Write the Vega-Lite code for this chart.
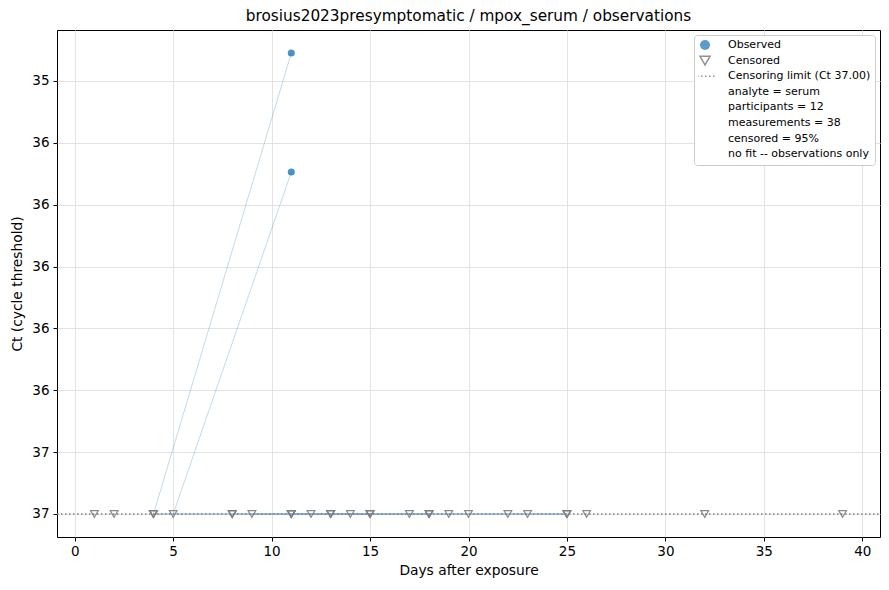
{
  "$schema": "https://vega.github.io/schema/vega-lite/v6.json",
  "width": 823,
  "height": 507,
  "autosize": {"type": "none"},
  "padding": {"left": 57, "top": 30, "right": 9, "bottom": 53},
  "title": {
    "text": "brosius2023presymptomatic / mpox_serum / observations",
    "font": "DejaVu Sans",
    "fontSize": 15.3,
    "fontWeight": "normal",
    "color": "black",
    "offset": 6
  },
  "config": {
    "font": "DejaVu Sans",
    "view": {"stroke": "black", "strokeWidth": 1},
    "axis": {
      "labelFont": "DejaVu Sans",
      "labelFontSize": 13.5,
      "labelColor": "black",
      "titleFont": "DejaVu Sans",
      "titleFontSize": 13.8,
      "titleFontWeight": "normal",
      "titleColor": "black",
      "tickColor": "black",
      "tickSize": 4,
      "domain": false,
      "gridColor": "#e3e3e3",
      "gridWidth": 1
    },
    "legend": {
      "labelFont": "DejaVu Sans",
      "labelFontSize": 11,
      "labelColor": "black"
    }
  },
  "datasets": {
    "obs": [
      {"pid": "P01", "day": 4, "ct": 37, "censored": true},
      {"pid": "P01", "day": 11, "ct": 35.137, "censored": false},
      {"pid": "P02", "day": 5, "ct": 37, "censored": true},
      {"pid": "P02", "day": 11, "ct": 35.618, "censored": false},
      {"pid": "P03", "day": 4, "ct": 37, "censored": true},
      {"pid": "P03", "day": 8, "ct": 37, "censored": true},
      {"pid": "P03", "day": 11, "ct": 37, "censored": true},
      {"pid": "P03", "day": 13, "ct": 37, "censored": true},
      {"pid": "P03", "day": 15, "ct": 37, "censored": true},
      {"pid": "P03", "day": 18, "ct": 37, "censored": true},
      {"pid": "P03", "day": 25, "ct": 37, "censored": true},
      {"pid": "P04", "day": 8, "ct": 37, "censored": true},
      {"pid": "P04", "day": 11, "ct": 37, "censored": true},
      {"pid": "P04", "day": 13, "ct": 37, "censored": true},
      {"pid": "P04", "day": 15, "ct": 37, "censored": true},
      {"pid": "P04", "day": 18, "ct": 37, "censored": true},
      {"pid": "P04", "day": 25, "ct": 37, "censored": true},
      {"pid": "P05", "day": 9, "ct": 37, "censored": true},
      {"pid": "P05", "day": 12, "ct": 37, "censored": true},
      {"pid": "P05", "day": 14, "ct": 37, "censored": true},
      {"pid": "P05", "day": 17, "ct": 37, "censored": true},
      {"pid": "P05", "day": 19, "ct": 37, "censored": true},
      {"pid": "P05", "day": 20, "ct": 37, "censored": true},
      {"pid": "P05", "day": 22, "ct": 37, "censored": true},
      {"pid": "P05", "day": 23, "ct": 37, "censored": true},
      {"pid": "P05", "day": 25, "ct": 37, "censored": true},
      {"pid": "P06", "day": 1, "ct": 37, "censored": true},
      {"pid": "P07", "day": 2, "ct": 37, "censored": true},
      {"pid": "P08", "day": 26, "ct": 37, "censored": true},
      {"pid": "P09", "day": 32, "ct": 37, "censored": true},
      {"pid": "P10", "day": 39, "ct": 37, "censored": true},
      {"pid": "P11", "day": 4, "ct": 37, "censored": true},
      {"pid": "P11", "day": 8, "ct": 37, "censored": true},
      {"pid": "P11", "day": 11, "ct": 37, "censored": true},
      {"pid": "P11", "day": 15, "ct": 37, "censored": true},
      {"pid": "P12", "day": 11, "ct": 37, "censored": true},
      {"pid": "P12", "day": 13, "ct": 37, "censored": true},
      {"pid": "P12", "day": 18, "ct": 37, "censored": true}
    ],
    "legend": [
      {"entry": "Observed"},
      {"entry": "Censored"},
      {"entry": "Censoring limit (Ct 37.00)"},
      {"entry": "analyte = serum"},
      {"entry": "participants = 12"},
      {"entry": "measurements = 38"},
      {"entry": "censored = 95%"},
      {"entry": "no fit -- observations only"}
    ]
  },
  "encoding": {
    "x": {
      "field": "day",
      "type": "quantitative",
      "title": "Days after exposure",
      "scale": {"domain": [-0.9, 40.9], "nice": false, "zero": false},
      "axis": {"values": [0, 5, 10, 15, 20, 25, 30, 35, 40], "titlePadding": 5, "labelPadding": 3.5}
    },
    "y": {
      "field": "ct",
      "type": "quantitative",
      "title": "Ct (cycle threshold)",
      "scale": {"domain": [35.044, 37.093], "nice": false, "zero": false, "reverse": true},
      "axis": {
        "values": [35.25, 35.5, 35.75, 36, 36.25, 36.5, 36.75, 37],
        "labelExpr": "datum.value == 36.5 ? '36' : format(datum.value, '.0f')",
        "titlePadding": 7,
        "labelPadding": 4
      }
    }
  },
  "layer": [
    {
      "data": {"name": "obs"},
      "mark": {"type": "line", "color": "#1f77b4", "opacity": 0.3, "strokeWidth": 0.9},
      "encoding": {
        "detail": {"field": "pid"},
        "order": {"field": "day", "type": "quantitative"}
      }
    },
    {
      "data": {"values": [{"ct": 37}]},
      "mark": {"type": "rule", "color": "#808080", "strokeWidth": 1.3, "strokeDash": [1.5, 2.5]},
      "encoding": {"x": {"value": 0}, "x2": {"value": 823}}
    },
    {
      "data": {"name": "obs"},
      "transform": [{"filter": "datum.censored"}],
      "mark": {"type": "point", "shape": "triangle-down", "filled": false, "color": "#7f7f7f", "strokeWidth": 1.2, "size": 60, "opacity": 0.9}
    },
    {
      "data": {"name": "obs"},
      "transform": [{"filter": "!datum.censored"}],
      "mark": {"type": "circle", "color": "#1f77b4", "opacity": 0.8, "size": 50}
    },
    {
      "data": {"name": "legend"},
      "transform": [{"filter": "false"}],
      "mark": {"type": "point", "strokeWidth": 1.2, "size": 50, "opacity": 0.85},
      "encoding": {
        "shape": {
          "field": "entry",
          "type": "nominal",
          "scale": {
            "domain": [
              "Observed",
              "Censored",
              "Censoring limit (Ct 37.00)",
              "analyte = serum",
              "participants = 12",
              "measurements = 38",
              "censored = 95%",
              "no fit -- observations only"
            ],
            "range": ["circle", "triangle-down", "M-2.4,0H2.4", "M0,0", "M0,0", "M0,0", "M0,0", "M0,0"]
          },
          "legend": {
            "title": null,
            "orient": "top-right",
            "offset": 5,
            "fillColor": "white",
            "strokeColor": "#cccccc",
            "cornerRadius": 3,
            "padding": 4,
            "clipHeight": 12,
            "rowPadding": 3.6,
            "labelOffset": 17,
            "symbolOffset": 1
          }
        },
        "fill": {
          "field": "entry",
          "type": "nominal",
          "scale": {
            "domain": [
              "Observed",
              "Censored",
              "Censoring limit (Ct 37.00)",
              "analyte = serum",
              "participants = 12",
              "measurements = 38",
              "censored = 95%",
              "no fit -- observations only"
            ],
            "range": ["#1f77b4", "transparent", "transparent", "transparent", "transparent", "transparent", "transparent", "transparent"]
          }
        },
        "stroke": {
          "field": "entry",
          "type": "nominal",
          "scale": {
            "domain": [
              "Observed",
              "Censored",
              "Censoring limit (Ct 37.00)",
              "analyte = serum",
              "participants = 12",
              "measurements = 38",
              "censored = 95%",
              "no fit -- observations only"
            ],
            "range": ["transparent", "#7f7f7f", "#7f7f7f", "transparent", "transparent", "transparent", "transparent", "transparent"]
          }
        },
        "strokeDash": {
          "field": "entry",
          "type": "nominal",
          "scale": {
            "domain": [
              "Observed",
              "Censored",
              "Censoring limit (Ct 37.00)",
              "analyte = serum",
              "participants = 12",
              "measurements = 38",
              "censored = 95%",
              "no fit -- observations only"
            ],
            "range": [[1, 0], [1, 0], [1.5, 2.5], [1, 0], [1, 0], [1, 0], [1, 0], [1, 0]]
          }
        }
      }
    }
  ]
}
